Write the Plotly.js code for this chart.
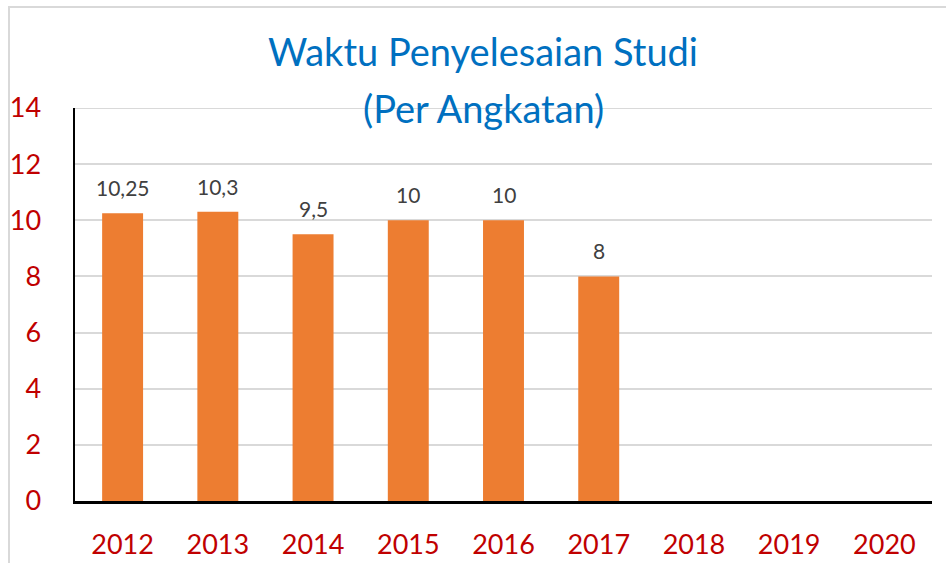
<!DOCTYPE html>
<html>
<head>
<meta charset="utf-8">
<script src="https://cdn.plot.ly/plotly-3.0.1.min.js"></script>
<style>
  html, body { margin: 0; padding: 0; overflow: hidden; background: #fff; }
  #chart { width: 946px; height: 563px; }
  #frame { position: absolute; left: 8px; top: 6px; width: 2000px; height: 2000px;
           border-left: 2px solid #d9d9d9; border-top: 2px solid #d9d9d9; pointer-events: none; }
</style>
</head>
<body>
<div id="chart"></div>
<div id="frame"></div>
<script>
const years = ['2012', '2013', '2014', '2015', '2016', '2017', '2018', '2019', '2020'];
const barYears = ['2012', '2013', '2014', '2015', '2016', '2017'];
const waktu = [10.25, 10.3, 9.5, 10, 10, 8];
const yTicks = [0, 2, 4, 6, 8, 10, 12, 14];
const titleLine1 = 'Waktu Penyelesaian Studi';
const titleLine2 = '(Per Angkatan)';

const FONT = 'Lato, "Open Sans", sans-serif';

const trace = {
  type: 'bar',
  x: barYears,
  y: waktu,
  marker: { color: '#ED7D31' },
  hoverinfo: 'x+y'
};

const labelAnnotations = barYears.map((yr, i) => ({
  x: years.indexOf(yr), y: waktu[i], xref: 'x', yref: 'y',
  text: String(waktu[i]).replace('.', ','),
  showarrow: false, yanchor: 'bottom', yshift: 11,
  font: { family: FONT, size: 21, color: '#404040' }
}));

const titleAnnotation = {
  x: (483 - 75) / 857, xref: 'paper', xanchor: 'center',
  y: 1, yref: 'paper', yanchor: 'middle',
  text: titleLine2, showarrow: false,
  font: { family: FONT, size: 38, color: '#0070C0' }
};

// top gridline (Plotly clips grid lines at the range edge)
const topGrid = {
  type: 'line', xref: 'paper', yref: 'y',
  x0: 0, x1: 1, y0: yTicks[yTicks.length - 1], y1: yTicks[yTicks.length - 1],
  line: { color: '#d9d9d9', width: 2 }, layer: 'below'
};

const layout = {
  width: 946, height: 563,
  margin: { l: 75, r: 14, t: 108, b: 62 },
  paper_bgcolor: '#ffffff', plot_bgcolor: '#ffffff',
  showlegend: false,
  bargap: 0.57,
  title: {
    text: titleLine1,
    font: { family: FONT, size: 38, color: '#0070C0' },
    x: 483 / 946, xanchor: 'center', xref: 'container',
    y: 1 - 39 / 563, yanchor: 'top', yref: 'container'
  },
  xaxis: {
    type: 'category',
    categoryorder: 'array', categoryarray: years,
    range: [-0.5, 8.5],
    tickvals: years, ticktext: years,
    showline: true, linecolor: '#000000', linewidth: 2.5,
    showgrid: false, ticks: '', zeroline: false,
    ticklabelstandoff: 18,
    tickfont: { family: FONT, size: 27, color: '#C00000' }
  },
  yaxis: {
    range: [0, 14],
    tickvals: yTicks,
    showline: true, linecolor: '#000000', linewidth: 2.5,
    showgrid: true, gridcolor: '#d9d9d9', gridwidth: 2,
    zeroline: false, ticks: '',
    ticklabelstandoff: 26,
    tickfont: { family: FONT, size: 27, color: '#C00000' }
  },
  shapes: [topGrid],
  annotations: labelAnnotations.concat([titleAnnotation])
};

Plotly.newPlot('chart', [trace], layout, { displayModeBar: false, staticPlot: true });
</script>
</body>
</html>
